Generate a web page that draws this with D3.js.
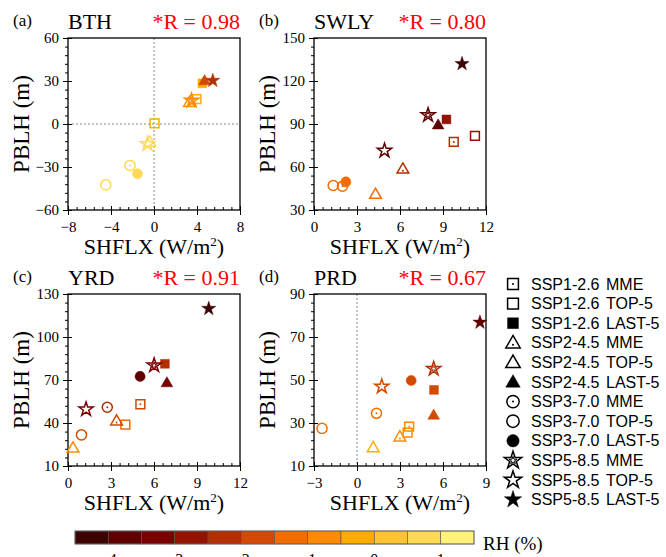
<!DOCTYPE html>
<html><head><meta charset="utf-8">
<script src="https://cdn.jsdelivr.net/npm/d3@7"></script>
<style>body{margin:0;background:#fff}svg{display:block}</style>
</head><body>
<svg id="c" width="666" height="557"></svg>
<script>
// order of points in each panel: SSP1 MME,TOP,LAST, SSP2 MME,TOP,LAST, SSP3 ..., SSP5 ...
const scenarios = ["SSP1-2.6","SSP2-4.5","SSP3-7.0","SSP5-8.5"];
const groups = ["MME","TOP-5","LAST-5"];
const shapes = ["square","triangle","circle","star"];

const panelIds = ["(a)","(b)","(c)","(d)"];
const regions = ["BTH","SWLY","YRD","PRD"];
const rLabels = ["*R = 0.98","*R = 0.80","*R = 0.91","*R = 0.67"];

const shflxBTH = [3.95, 0.05, 4.5,  3.3, -0.4, 4.7,  -2.23, -4.48, -1.54,  3.5, -0.6, 5.47];
const pblhBTH  = [17.4, 0.4, 28.4,  15.3, -12.5, 30.5,  -28.9, -42.5, -34.7,  16.3, -14, 30.3];
const rhBTH    = [-0.25, -0.25, -0.25,  -0.75, 0.75, -1.75,  0.75, 0.75, 0.75,  -0.75, 0.75, -2.25];

const shflxSWLY = [9.75, 11.23, 9.24,  6.2, 4.29, 8.66,  1.99, 1.34, 2.22,  7.96, 4.92, 10.33];
const pblhSWLY  = [77.5, 81.7, 93.2,  58.8, 41.2, 89.6,  46.6, 47.1, 49.6,  96.2, 71.4, 132];
const rhSWLY    = [-2.25, -2.75, -2.75,  -2.25, -1.25, -3.75,  -1.25, -1.25, -1.25,  -3.75, -3.75, -4.25];

const shflxYRD = [5.05, 4.0, 6.76,  3.39, 0.35, 6.9,  2.74, 0.94, 5.03,  6.01, 1.26, 9.82];
const pblhYRD  = [53.1, 38.9, 81.3,  41.7, 22.8, 68.3,  51, 31.7, 72.5,  80.2, 49.5, 119.8];
const rhYRD    = [-1.75, -1.25, -2.25,  -1.75, -0.75, -3.25,  -2.25, -1.75, -3.75,  -3.25, -3.25, -4.25];

const shflxPRD = [3.64, 3.53, 5.37,  2.99, 1.13, 5.35,  1.36, -2.44, 3.78,  5.35, 1.73, 8.58];
const pblhPRD  = [28.3, 25.5, 45.4,  23.7, 18.7, 33.8,  34.5, 27.5, 49.75,  55.2, 47, 76.8];
const rhPRD    = [-0.75, -0.75, -1.75,  -0.75, -0.25, -1.75,  -1.25, -1.25, -1.75,  -2.25, -1.75, -3.75];

const xDomains = [[-8,8],[0,12],[0,12],[-3,9]];
const yDomains = [[-60,60],[30,150],[10,130],[10,90]];
const xTicks = [[-8,-4,0,4,8],[0,3,6,9,12],[0,3,6,9,12],[-3,0,3,6,9]];
const yTicks = [[-60,-30,0,30,60],[30,60,90,120,150],[10,40,70,100,130],[10,30,50,70,90]];

const rhBounds = [-4,-3.5,-3,-2.5,-2,-1.5,-1,-0.5,0,0.5,1];
const rhColors = ["#3c0303","#5e0000","#7a0000","#961200","#b22f00","#d24a00","#f26c00","#ff8c00","#ffac00","#ffc233","#ffd955","#fff27a"];
const cbTickVals = [-4,-3,-2,-1,0,1];

const panelData = [
  [shflxBTH, pblhBTH, rhBTH],
  [shflxSWLY, pblhSWLY, rhSWLY],
  [shflxYRD, pblhYRD, rhYRD],
  [shflxPRD, pblhPRD, rhPRD]
];

const svg = d3.select("#c");
const SERIF = "Liberation Serif, Times New Roman, serif";
const SANS = "Liberation Sans, Arial, sans-serif";
const color = d3.scaleThreshold().domain(rhBounds).range(rhColors);

const origins = [[68,38],[314,38],[68,294],[314,294]];
const W = 172, H = 172;

function symPath(shape, size){
  const t = {square:d3.symbolSquare, triangle:d3.symbolTriangle, circle:d3.symbolCircle, star:d3.symbolStar}[shape];
  const s = {square:78, triangle:60, circle:80, star:62}[shape];
  return d3.symbol().type(t).size(s*size)();
}

function drawMarker(g, shape, grp, col, x, y, scale){
  scale = scale || 1;
  const m = g.append("g").attr("transform", `translate(${x},${y})`);
  const filled = grp === 2;
  const dy = shape === "triangle" ? 1 : 0;
  m.append("path").attr("d", symPath(shape,scale)).attr("transform",`translate(0,${dy})`)
    .attr("fill", filled ? col : "none").attr("stroke", col)
    .attr("stroke-width", filled ? 0.5 : 1.5).attr("stroke-linejoin","miter");
  if (grp === 0){
    if (shape === "star"){
      m.append("path").attr("d", symPath("star",0.2*scale)).attr("fill","none").attr("stroke",col).attr("stroke-width",1);
    } else {
      m.append("circle").attr("cx",0).attr("cy", shape==="triangle"?2:0).attr("r",1).attr("fill",col);
    }
  }
}

panelData.forEach((pd, i) => {
  const [ox, oy] = origins[i];
  const g = svg.append("g").attr("transform",`translate(${ox},${oy})`);
  const x = d3.scaleLinear().domain(xDomains[i]).range([0,W]);
  const y = d3.scaleLinear().domain(yDomains[i]).range([H,0]);
  const xt = xTicks[i], yt = yTicks[i];
  const xStep = xt[1]-xt[0], yStep = yt[1]-yt[0];
  const xMinor = d3.range(xDomains[i][0], xDomains[i][1]+1e-9, xStep/5);
  const yMinor = d3.range(yDomains[i][0], yDomains[i][1]+1e-9, yStep/5);

  // zero reference lines
  if (xDomains[i][0] < 0) g.append("line").attr("x1",x(0)).attr("x2",x(0)).attr("y1",0).attr("y2",H)
      .attr("stroke","#888").attr("stroke-width",1).attr("stroke-dasharray","2,2");
  if (yDomains[i][0] < 0) g.append("line").attr("y1",y(0)).attr("y2",y(0)).attr("x1",0).attr("x2",W)
      .attr("stroke","#888").attr("stroke-width",1).attr("stroke-dasharray","2,2");

  // axes: minor ticks
  const xa = g.append("g").attr("transform",`translate(0,${H})`)
    .call(d3.axisBottom(x).tickValues(xMinor).tickSize(-3).tickFormat(""));
  xa.select(".domain").remove();
  const ya = g.append("g").call(d3.axisLeft(y).tickValues(yMinor).tickSize(3).tickFormat(""));
  ya.select(".domain").remove();
  // major ticks
  const xa2 = g.append("g").attr("transform",`translate(0,${H})`)
    .call(d3.axisBottom(x).tickValues(xt).tickSize(5).tickPadding(6).tickFormat(d3.format("d")));
  xa2.select(".domain").remove();
  xa2.selectAll(".tick line").attr("y1",-4);
  xa2.selectAll("text").attr("font-family",SERIF).attr("font-size",15).attr("fill","#000");
  const ya2 = g.append("g").call(d3.axisLeft(y).tickValues(yt).tickSize(5).tickPadding(4).tickFormat(d3.format("d")));
  ya2.select(".domain").remove();
  ya2.selectAll(".tick line").attr("x1",4);
  ya2.selectAll("text").attr("font-family",SERIF).attr("font-size",15).attr("fill","#000");
  g.selectAll(".tick line").attr("stroke","#000").attr("stroke-width",1);

  g.append("rect").attr("x",0).attr("y",0).attr("width",W).attr("height",H)
    .attr("fill","none").attr("stroke","#000").attr("stroke-width",1.3);

  // points
  const [xs, ys, rh] = pd;
  xs.forEach((v, k) => {
    const s = Math.floor(k/3), grp = k%3;
    drawMarker(g, shapes[s], grp, color(rh[k]), x(v), y(ys[k]));
  });

  // titles
  svg.append("text").attr("x", ox - 55).attr("y", oy - 12).text(panelIds[i])
    .attr("font-family",SERIF).attr("font-size",17);
  svg.append("text").attr("x", ox).attr("y", oy - 9).text(regions[i])
    .attr("font-family",SERIF).attr("font-size",22);
  svg.append("text").attr("x", ox + W).attr("y", oy - 9).attr("text-anchor","end").text(rLabels[i])
    .attr("font-family",SERIF).attr("font-size",22).attr("fill","#ff0000");

  // axis labels
  svg.append("text").attr("transform",`translate(${ox-39},${oy+H/2}) rotate(-90)`)
    .attr("text-anchor","middle").attr("font-family",SERIF).attr("font-size",23).text("PBLH (m)");
  const xl = svg.append("text").attr("x", ox+W/2).attr("y", oy+H+44).attr("text-anchor","middle")
    .attr("font-family",SERIF).attr("font-size",22);
  xl.append("tspan").text("SHFLX (W/m");
  xl.append("tspan").text("2").attr("font-size",13).attr("dy",-8);
  xl.append("tspan").text(")").attr("dy",8);
});

// legend
const lg = svg.append("g");
scenarios.forEach((sc, s) => {
  groups.forEach((gr, k) => {
    const row = s*3 + k;
    const yy = 284 + row*19.6;
    drawMarker(lg, shapes[s], k, "#000", 513, yy, 1.5);
    lg.append("text").attr("x",531).attr("y",yy+5.5).text(sc).attr("font-family",SANS).attr("font-size",16);
    lg.append("text").attr("x",606).attr("y",yy+5.5).text(gr).attr("font-family",SANS).attr("font-size",16);
  });
});

// colorbar
const cbX = d3.scaleLinear().domain([-4.5,1.5]).range([75,474]);
const cbEdges = [-4.5].concat(rhBounds, [1.5]);
const cb = svg.append("g");
rhColors.forEach((c, k) => {
  cb.append("rect").attr("x", cbX(cbEdges[k])).attr("y",531).attr("width", cbX(cbEdges[k+1])-cbX(cbEdges[k]))
    .attr("height",13).attr("fill",c).attr("stroke","#555").attr("stroke-width",0.6);
});
cb.append("rect").attr("x",75).attr("y",531).attr("width",399).attr("height",13).attr("fill","none").attr("stroke","#666").attr("stroke-width",0.8);
cbTickVals.forEach(v => {
  cb.append("text").attr("x",cbX(v)).attr("y",565).attr("text-anchor","middle").text(d3.format("d")(v))
    .attr("font-family",SERIF).attr("font-size",16);
});
svg.append("text").attr("x",483).attr("y",550).text("RH (%)").attr("font-family",SERIF).attr("font-size",19);
</script>
</body></html>
